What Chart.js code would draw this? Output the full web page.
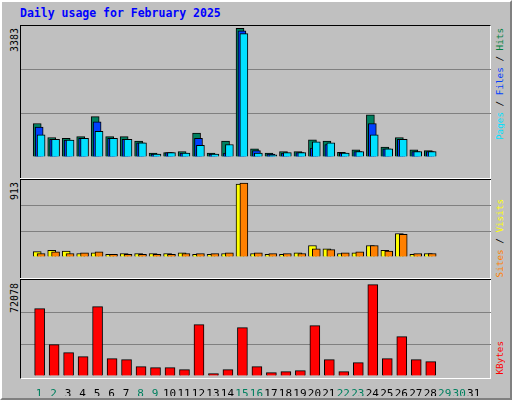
<!DOCTYPE html>
<html><head><meta charset="utf-8">
<script src="https://cdn.jsdelivr.net/npm/chart.js@4"></script>
<style>
body{margin:0;width:512px;height:400px;background:#c0c0c0;overflow:hidden;font-family:"DejaVu Sans Mono",monospace}
#frame{position:absolute;left:0;top:0;width:508px;height:396px;border:2px solid;border-color:#ffffff #808080 #808080 #ffffff;background:#c0c0c0}
#title{position:absolute;left:20px;top:6px;color:#0000ff;font-weight:bold;font-size:11.5px}
#plot{position:absolute;left:20px;top:25px;width:471px;height:354px;border-top:1px solid #000;border-left:1px solid #000;border-right:1px solid #fff;border-bottom:1px solid #fff;box-sizing:border-box}
.sep{position:absolute;left:20px;width:471px;height:1px;background:#fff}
.sep2{position:absolute;left:20px;width:471px;height:1px;background:#000}
canvas{position:absolute}
.vt{position:absolute;writing-mode:vertical-rl;transform:rotate(180deg);font-size:10px;line-height:12px;white-space:nowrap}
.vr{font-size:9.3px}
</style></head><body>
<div id="frame"></div>
<div id="title">Daily usage for February 2025</div>
<div id="plot"></div>
<div class="sep" style="top:178px"></div><div class="sep2" style="top:179px"></div>
<div class="sep" style="top:278px"></div><div class="sep2" style="top:279px"></div>
<canvas id="c1" width="470" height="151" style="left:21px;top:26px"></canvas>
<canvas id="c2" width="470" height="97" style="left:21px;top:180px"></canvas>
<canvas id="c3" width="470" height="115" style="left:21px;top:281px"></canvas>
<div class="vt" style="left:9px;top:28px;color:#000">3383</div>
<div class="vt" style="left:9px;top:182px;color:#000">913</div>
<div class="vt" style="left:9px;top:283px;color:#000">72078</div>
<div class="vt vr" style="left:494px;top:28px"><span style="color:#00e0ff">Pages</span> / <span style="color:#0040ff">Files</span> / <span style="color:#008040">Hits</span></div>
<div class="vt vr" style="left:494px;top:199px"><span style="color:#ff8000">Sites</span> / <span style="color:#ffff00">Visits</span></div>
<div class="vt vr" style="left:494px;top:341px;color:#ff0000">KBytes</div>
<script>
const days=[1,2,3,4,5,6,7,8,9,10,11,12,13,14,15,16,17,18,19,20,21,22,23,24,25,26,27,28,29,30,31];
const weekend=[1,2,8,9,15,16,22,23,29,30];
const hits=[880,513,490,536,1063,536,536,421,100,115,145,627,100,421,3383,214,100,145,145,451,421,122,191,1109,260,513,191,168];
const files=[788,467,444,490,926,490,467,375,77,115,100,490,77,100,3313,168,77,100,115,237,329,100,145,880,214,467,145,145];
const pages=[581,467,444,490,673,490,467,375,77,115,100,306,77,329,3244,100,54,115,115,398,375,100,145,581,214,467,145,145];
const visits=[66,82,73,43,53,33,43,43,43,43,53,33,33,43,903,43,33,33,53,142,102,43,53,142,82,290,33,43];
const sites=[43,63,43,53,63,33,33,33,33,33,43,43,43,53,913,53,43,43,43,102,92,53,63,142,73,280,43,43];
const kbytes=[53136,24727,18414,15258,54715,13680,12890,7366,6576,6576,4998,40510,1841,4998,38143,7366,2630,3420,4209,39721,12890,3420,10522,72078,13680,31040,12890,11311];

// order: higher value drawn first (underneath)
function ds(vals,color,off,w,order){
  return {data:vals.map((v,i)=>({x:i+1+off,y:v})),backgroundColor:color,borderColor:"#000",
    borderWidth:1,borderSkipped:"bottom",barThickness:w,grouped:false,order:order};
}
function opts(max,showX){
  return {responsive:false,animation:false,devicePixelRatio:1,layout:{padding:0},
    plugins:{legend:{display:false},tooltip:{enabled:false}},
    scales:{
      x:{type:"linear",min:0.27,max:31.67,display:showX,grid:{display:false},border:{display:false},
        afterBuildTicks:s=>{s.ticks=days.map(v=>({value:v}));},
        afterFit:s=>{s.height=20;},
        ticks:{padding:4,autoSkip:false,maxRotation:0,minRotation:0,font:{family:"DejaVu Sans Mono",size:11},
          color:c=>weekend.includes(c.tick.value)?"#00805f":"#000",callback:v=>String(v)}},
      y:{min:0,max:max,display:true,border:{display:false},
        afterFit:s=>{s.width=0;},
        afterBuildTicks:s=>{s.ticks=[0,max/3,2*max/3,max].map(v=>({value:v}));},
        ticks:{display:false},
        grid:{drawTicks:false,color:c=>(c.tick.value>0&&c.tick.value<max)?"#808080":"rgba(0,0,0,0)"}}
    }};
}
new Chart(document.getElementById("c1"),{type:"bar",data:{datasets:[
  ds(hits,"#008060",-0.133,8,3),ds(files,"#0040ff",0,8,2),ds(pages,"#00e0ff",0.133,8,1)]},options:opts(3443,false)});
new Chart(document.getElementById("c2"),{type:"bar",data:{datasets:[
  ds(visits,"#ffff00",-0.133,8,2),ds(sites,"#ff8000",0.133,8,1)]},options:opts(952,false)});
new Chart(document.getElementById("c3"),{type:"bar",data:{datasets:[
  ds(kbytes,"#ff0000",0.033,10,1)]},options:opts(74900,true)});
</script></body></html>
